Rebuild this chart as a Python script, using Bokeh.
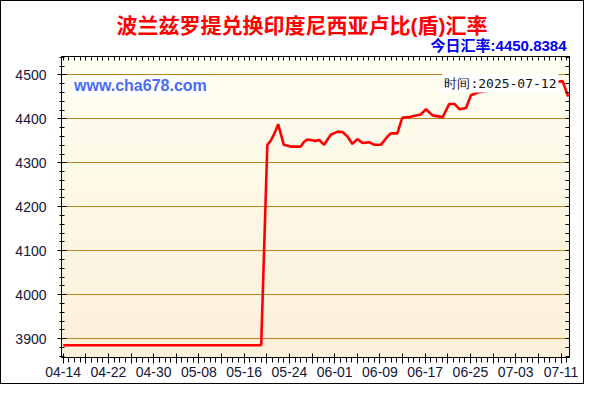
import numpy as np
import pandas as pd
from bokeh.plotting import figure
from bokeh.models import FixedTicker, Range1d, LinearAxis, DatetimeAxis, Label, Title, ColumnDataSource
from bokeh.embed import file_html
from bokeh.resources import INLINE

# ---------------- data ----------------
title_text = "波兰兹罗提兑换印度尼西亚卢比(盾)汇率"
today_text = "今日汇率:4450.8384"
watermark_text = "www.cha678.com"
time_text = "时间:2025-07-12"

dates = [
    "2025-04-14 00:00", "2025-05-19 00:00", "2025-05-20 02:00", "2025-05-20 16:00",
    "2025-05-21 06:00", "2025-05-22 00:00", "2025-05-23 00:00", "2025-05-24 05:00",
    "2025-05-26 00:00", "2025-05-26 14:00", "2025-05-27 04:00", "2025-05-28 15:00",
    "2025-05-29 06:00", "2025-05-30 03:00", "2025-05-31 07:00", "2025-06-01 12:00",
    "2025-06-02 09:00", "2025-06-03 06:00", "2025-06-04 03:00", "2025-06-05 00:00",
    "2025-06-05 22:00", "2025-06-07 02:00", "2025-06-08 00:00", "2025-06-09 04:00",
    "2025-06-10 08:00", "2025-06-10 22:00", "2025-06-12 02:00", "2025-06-12 17:00",
    "2025-06-13 00:00", "2025-06-14 04:00", "2025-06-14 18:00", "2025-06-16 05:00",
    "2025-06-17 03:00", "2025-06-18 07:00", "2025-06-20 02:00", "2025-06-21 06:00",
    "2025-06-22 04:00", "2025-06-23 01:00", "2025-06-24 05:00", "2025-06-25 02:00",
    "2025-06-26 07:00", "2025-06-29 00:00", "2025-07-03 00:00", "2025-07-07 00:00",
    "2025-07-11 07:00", "2025-07-12 06:00",
]
rates = [
    3885, 3885, 4341, 4350,
    4364, 4388, 4341, 4337,
    4337, 4348, 4353, 4350,
    4352, 4341, 4364, 4371,
    4370, 4360, 4343, 4354,
    4345, 4347, 4341, 4341,
    4360, 4367, 4367, 4394,
    4403, 4404, 4406, 4410,
    4422, 4408, 4404, 4434,
    4434, 4422, 4425, 4454,
    4460, 4466, 4472, 4478,
    4486, 4451,
]

x_labels = ["04-14", "04-22", "04-30", "05-08", "05-16", "05-24",
            "06-01", "06-09", "06-17", "06-25", "07-03", "07-11"]
year = "2025"
y_ticks = [3900, 4000, 4100, 4200, 4300, 4400, 4500]
y_minor_step = 20
y_start, y_end = 3857, 4542

# ---------------- helpers ----------------
DAY = 86400000.0


def ms(s):
    return float(pd.Timestamp(s).value // 10**6)


lab_ms = [ms(f"{year}-{l}") for l in x_labels]
mid_ms = [(a + b) / 2 for a, b in zip(lab_ms[:-1], lab_ms[1:])]
minor_ms = list(np.arange(lab_ms[0] - DAY, lab_ms[-1] + 3 * DAY, DAY))
x_start = lab_ms[0] - 0.3 * DAY
x_end = lab_ms[0] + 89.5 * DAY

xticker = FixedTicker(ticks=sorted(lab_ms + mid_ms), minor_ticks=minor_ms)
overrides = {m: l for m, l in zip(lab_ms, x_labels)}
overrides.update({m: "" for m in mid_ms})
y_minor = list(range(y_ticks[0] - 2 * y_minor_step, y_end, y_minor_step))
yticker = FixedTicker(ticks=y_ticks, minor_ticks=y_minor)

src = ColumnDataSource(dict(x=pd.to_datetime(dates), y=rates))

p = figure(width=584, height=384, output_backend="svg", toolbar_location=None,
           x_axis_type="datetime",
           x_range=Range1d(x_start, x_end), y_range=Range1d(y_start, y_end),
           min_border_left=60, min_border_right=16, min_border_top=55, min_border_bottom=28)
p.border_fill_color = "white"
p.outline_line_color = "black"
p.styles = {"border": "1px solid #000"}

# gradient background
n = 120
top_c = np.array([255, 255, 242], dtype=float)
bot_c = np.array([252, 240, 218], dtype=float)
img = np.empty((n, 1), dtype=np.uint32)
view = img.view(dtype=np.uint8).reshape((n, 1, 4))
for i in range(n):
    t = i / (n - 1)
    c = bot_c + (top_c - bot_c) * t
    view[i, 0, 0:3] = c.astype(np.uint8)
    view[i, 0, 3] = 255
p.image_rgba(image=[img], x=x_start, y=y_start, dw=x_end - x_start, dh=y_end - y_start, level="image")

# grid
p.xgrid.grid_line_color = None
p.ygrid.ticker = yticker
p.ygrid.grid_line_color = "#B8861E"
p.ygrid.grid_line_width = 1.2

label_font = "Liberation Sans"
label_color = "#15153a"

xa = p.xaxis[0]
xa.ticker = xticker
xa.major_label_overrides = overrides
xa.major_label_text_font = label_font
xa.major_label_text_font_size = "14px"
xa.major_label_text_color = label_color
xa.major_tick_out = 6
xa.major_tick_in = 4
xa.minor_tick_out = 5
xa.minor_tick_in = 0
xa.major_label_standoff = 3
xa.axis_line_color = "black"
xa.major_tick_line_color = "black"
xa.minor_tick_line_color = "black"

ya = p.yaxis[0]
ya.ticker = yticker
ya.major_label_text_font = label_font
ya.major_label_text_font_size = "14px"
ya.major_label_text_color = label_color
ya.major_tick_out = 4
ya.major_tick_in = 5
ya.minor_tick_out = 2
ya.minor_tick_in = 3
ya.major_label_standoff = 11
ya.axis_line_color = "black"
ya.major_tick_line_color = "black"
ya.minor_tick_line_color = "black"

# top and right axes: tick marks only (no major ticks -> no labels)
top_axis = DatetimeAxis(ticker=FixedTicker(ticks=[], minor_ticks=minor_ms),
                        major_label_standoff=0, major_tick_out=0, major_tick_in=0,
                        minor_tick_out=0, minor_tick_in=4, axis_line_color="black")
p.add_layout(top_axis, "above")
right_axis = LinearAxis(ticker=FixedTicker(ticks=[], minor_ticks=y_minor),
                        major_label_standoff=0, major_tick_out=0, major_tick_in=0,
                        minor_tick_out=0, minor_tick_in=4, axis_line_color="black")
p.add_layout(right_axis, "right")

# titles above the frame
cjk_font = "Liberation Sans, Noto Sans CJK SC"
p.add_layout(Title(text=today_text, align="right", offset=3, standoff=1, vertical_align="top",
                   text_font=cjk_font, text_font_style="bold",
                   text_font_size="15px", text_color="#0000EE"), "above")
p.add_layout(Title(text=title_text, align="left", offset=55, standoff=0,
                   text_font=cjk_font, text_font_style="bold",
                   text_font_size="21px", text_color="#FF0000"), "above")

# line
p.line("x", "y", source=src, line_color="#FF0000", line_width=2.6)

# texts inside the frame (screen units relative to the frame)
p.add_layout(Label(x=10.5, y=272, x_units="screen", y_units="screen", text=watermark_text,
                   text_font="Liberation Sans", text_font_style="bold",
                   text_font_size="16px", text_color="#4A6CF5",
                   text_align="left", text_baseline="middle",
                   background_fill_color="white", padding=2))
p.add_layout(Label(x=497, y=274.5, x_units="screen", y_units="screen", text=time_text,
                   text_font="DejaVu Sans Mono",
                   text_font_size="13px", text_color="#111111",
                   text_align="right", text_baseline="middle",
                   background_fill_color="white", padding=2))

open("out.html", "w").write(file_html(p, INLINE))
